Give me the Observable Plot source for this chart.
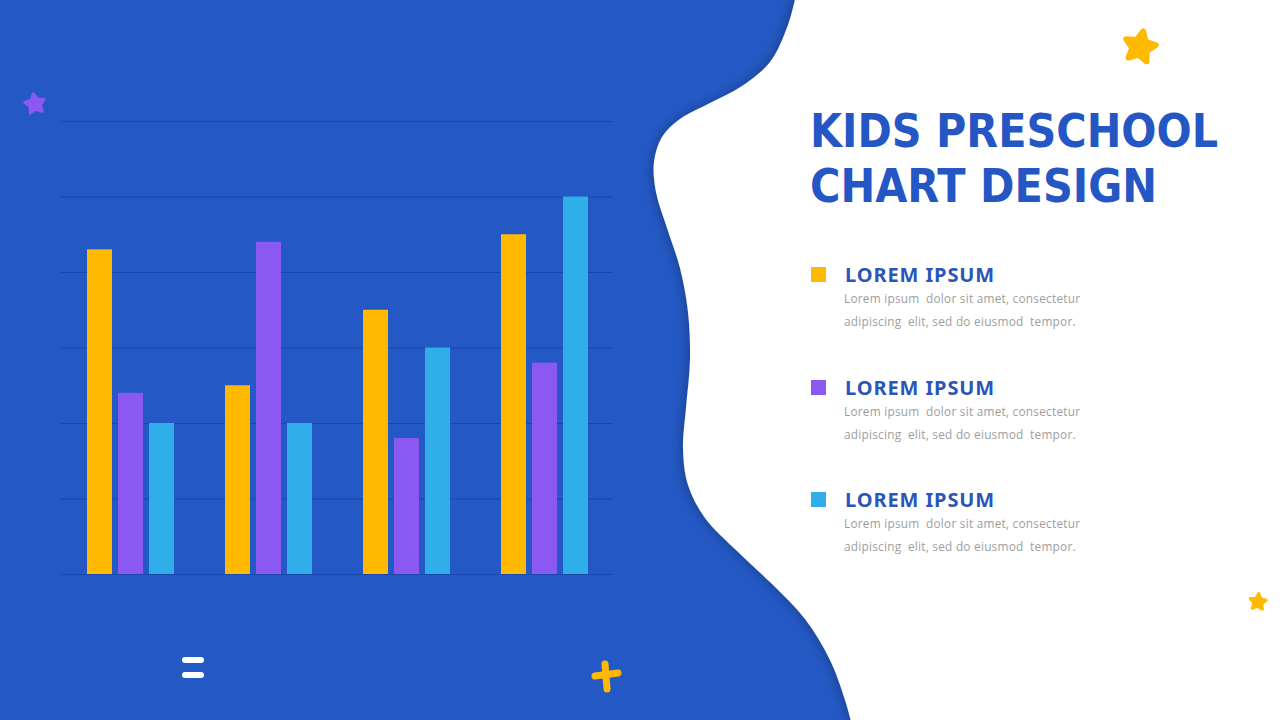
<!DOCTYPE html>
<html>
<head>
<meta charset="utf-8">
<script src="https://cdn.jsdelivr.net/npm/d3@7"></script>
<script src="https://cdn.jsdelivr.net/npm/@observablehq/plot@0.6"></script>
<style>
  html, body { margin: 0; padding: 0; }
  body { width: 1280px; height: 720px; overflow: hidden; background: #2459C5; }
  #stage { position: relative; width: 1280px; height: 720px; overflow: hidden; }
  #deco { position: absolute; left: 0; top: 0; }
  #chart { position: absolute; left: 0; top: 0; }
  .legend-item { position: absolute; left: 811px; }
  .legend-item .sw { position: absolute; left: 0; width: 15px; height: 15px; }
  .legend-item .hd { position: absolute; left: 34px; top: -6px; white-space: nowrap;
    font-family: "Noto Sans", sans-serif; font-weight: 700; font-size: 20px; color: #2A56B9; letter-spacing: 0.9px; }
  .legend-item .bd { position: absolute; left: 33px; top: 20px; white-space: nowrap;
    font-family: "Open Sans", sans-serif; font-size: 11.8px; color: #9E9E9E; line-height: 22.5px; letter-spacing: 0.25px; }
</style>
</head>
<body>
<div id="stage">
  <svg id="deco" width="1280" height="720"></svg>
  <div id="chart"></div>
  <div id="legend"></div>
</div>
<script>
// ---- data ----
const groups = ["Group 1", "Group 2", "Group 3", "Group 4"];
const series = ["Lorem ipsum A", "Lorem ipsum B", "Lorem ipsum C"];
const seriesColors = ["#FFB901", "#8B58F2", "#2FAEE9"];
const seriesA = [4.3, 2.5, 3.5, 4.5];
const seriesB = [2.4, 4.4, 1.8, 2.8];
const seriesC = [2.0, 2.0, 3.0, 5.0];
const yTicks = [0, 1, 2, 3, 4, 5, 6];
const legendTitles = ["LOREM IPSUM", "LOREM IPSUM", "LOREM IPSUM"];
const legendLine1 = "Lorem ipsum\u00a0 dolor sit amet, consectetur";
const legendLine2 = "adipiscing\u00a0 elit, sed do eiusmod\u00a0 tempor.";
const titleLines = ["KIDS PRESCHOOL", "CHART DESIGN"];

const seriesValues = [seriesA, seriesB, seriesC];
const table = groups.flatMap((g, i) => series.map((s, j) => ({group: g, series: s, value: seriesValues[j][i]})));

// ---- decoration (background shape, stars) ----
const deco = d3.select("#deco");
const defs = deco.append("defs");
const f = defs.append("filter").attr("id", "sh").attr("x", "-20%").attr("y", "-20%").attr("width", "140%").attr("height", "140%");
f.append("feDropShadow").attr("dx", -2).attr("dy", 0).attr("stdDeviation", 6).attr("flood-color", "#000").attr("flood-opacity", 0.28);

const edge = [[796,-5],[788,25],[770,62],[742,86],[710,103],[680,119],[662,137],[654,162],[656,192],[667,228],[680,268],[688,312],[690,360],[686,408],[683,448],[688,485],[705,518],[737,551],[772,584],[805,619],[830,660],[845,700],[852,725]];
const edgePath = d3.line().curve(d3.curveCatmullRom)(edge);
deco.append("path")
  .attr("d", edgePath + " L 1290 725 L 1290 -5 Z")
  .attr("fill", "#ffffff")
  .attr("filter", "url(#sh)");

function star(cx, cy, r, color, rot) {
  const pts = [];
  for (let k = 0; k < 10; k++) {
    const a = -Math.PI / 2 + k * Math.PI / 5 + (rot || 0);
    const rr = k % 2 === 0 ? r : r * 0.5;
    pts.push([cx + rr * Math.cos(a), cy + rr * Math.sin(a)]);
  }
  deco.append("polygon").attr("points", pts.map(p => p.join(",")).join(" "))
    .attr("fill", color).attr("stroke", color).attr("stroke-width", r * 0.35).attr("stroke-linejoin", "round");
}
star(35, 104, 10, "#8B58F2", -0.15);
star(1140, 47, 16, "#FFB901", 0.2);
star(1258, 602, 8.5, "#FFB901", 0.1);

// white "=" sign
deco.append("line").attr("x1", 185).attr("y1", 660).attr("x2", 201).attr("y2", 660)
  .attr("stroke", "#fff").attr("stroke-width", 6).attr("stroke-linecap", "round");
deco.append("line").attr("x1", 185).attr("y1", 675).attr("x2", 201).attr("y2", 675)
  .attr("stroke", "#fff").attr("stroke-width", 6).attr("stroke-linecap", "round");
// yellow plus
deco.append("line").attr("x1", 595).attr("y1", 676).attr("x2", 618).attr("y2", 673)
  .attr("stroke", "#FFB901").attr("stroke-width", 7).attr("stroke-linecap", "round");
deco.append("line").attr("x1", 605).attr("y1", 664).attr("x2", 607).attr("y2", 689)
  .attr("stroke", "#FFB901").attr("stroke-width", 7).attr("stroke-linecap", "round");

// title
titleLines.forEach((t, i) => {
  deco.append("text").text(t)
    .attr("x", 810).attr("y", 147 + i * 55)
    .attr("font-family", "'DejaVu Sans', sans-serif").attr("font-weight", 700)
    .attr("font-size", 46).attr("fill", "#2557C4")
    .attr("textLength", i === 0 ? 408 : 347).attr("lengthAdjust", "spacingAndGlyphs");
});

// legend
const legend = d3.select("#legend");
const legendTops = [267, 380, 492];
series.forEach((s, j) => {
  const item = legend.append("div").attr("class", "legend-item").style("top", legendTops[j] + "px");
  item.append("div").attr("class", "sw").style("background", seriesColors[j]);
  item.append("div").attr("class", "hd").text(legendTitles[j]);
  item.append("div").attr("class", "bd").html(legendLine1 + "<br>" + legendLine2);
});

// ---- chart ----
const chart = Plot.plot({
  width: 640,
  height: 720,
  marginLeft: 60,
  marginRight: 27,
  marginTop: 121,
  marginBottom: 146,
  style: {background: "transparent", overflow: "visible"},
  fx: {domain: groups, padding: 0, axis: null, label: null},
  x: {domain: series, paddingInner: 0.2, paddingOuter: 0.8, axis: null, label: null},
  y: {domain: [0, 6], axis: null},
  color: {domain: series, range: seriesColors},
  marks: [
    Plot.ruleY(yTicks, {stroke: "#1A48AC", strokeWidth: 1, strokeOpacity: 1}),
    Plot.barY(table, {fx: "group", x: "series", y: "value", fill: "series", inset: 0})
  ]
});
document.getElementById("chart").appendChild(chart);
</script>
</body>
</html>
